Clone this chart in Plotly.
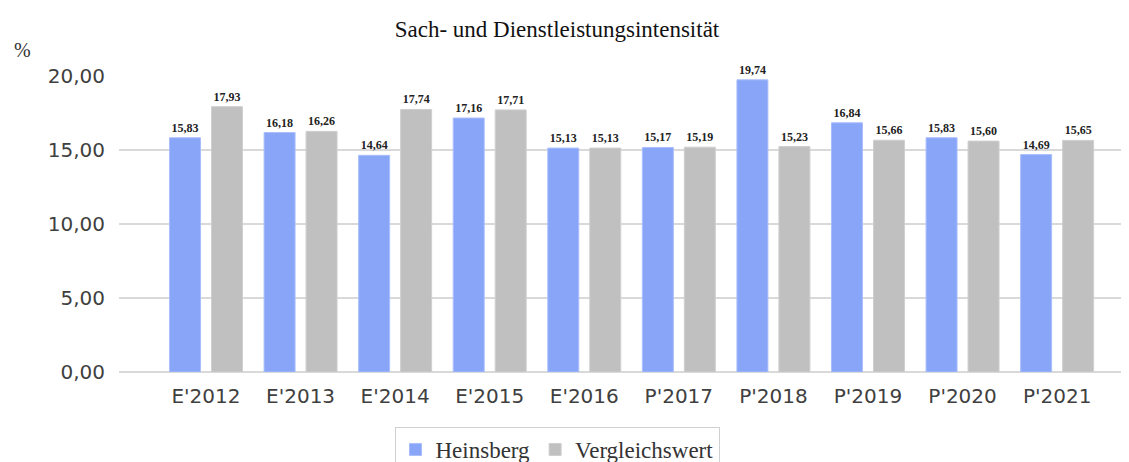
import plotly.graph_objects as go

categories = ["E'2012", "E'2013", "E'2014", "E'2015", "E'2016",
              "P'2017", "P'2018", "P'2019", "P'2020", "P'2021"]
heinsberg = [15.83, 16.18, 14.64, 17.16, 15.13, 15.17, 19.74, 16.84, 15.83, 14.69]
vergleich = [17.93, 16.26, 17.74, 17.71, 15.13, 15.19, 15.23, 15.66, 15.60, 15.65]
y_ticks = [0, 5, 10, 15, 20]

# the page body has an 8px margin; figure coords = page coords - 8
OFF = 8
W, H = 1129 - OFF, 462 - OFF
L, R, T = 119 - OFF, 0, 76 - OFF
B = H - (372 - OFF)

def fmt(v):
    return f"{v:.2f}".replace(".", ",")

label_font = dict(family="Liberation Serif", size=12, color="#222222", weight="bold")

fig = go.Figure()
fig.add_trace(go.Bar(
    x=categories, y=heinsberg, name="Heinsberg",
    marker=dict(color="#89A5F8", line=dict(color="#A9BFFB", width=1)),
    text=[fmt(v) for v in heinsberg], textposition="outside",
    textfont=label_font, cliponaxis=False, hoverinfo="skip",
))
fig.add_trace(go.Bar(
    x=categories, y=vergleich, name="Vergleichswert",
    marker=dict(color="#C0C0C0", line=dict(color="#CFCFCF", width=1)),
    text=[fmt(v) for v in vergleich], textposition="outside",
    textfont=label_font, cliponaxis=False, hoverinfo="skip",
))

fig.update_layout(
    width=W, height=H,
    margin=dict(l=L, r=R, t=T, b=B, autoexpand=False),
    paper_bgcolor="white", plot_bgcolor="white",
    separators=",.",
    barmode="group", bargap=0.112, bargroupgap=0.262,
    font=dict(family="DejaVu Sans", color="#404040"),
    title=dict(text="Sach- und Dienstleistungsintensität",
               font=dict(family="Liberation Serif", size=23, color="#111111"),
               x=(557 - OFF) / W, xanchor="center", xref="container",
               y=1 - (29 - OFF) / H, yanchor="middle", yref="container"),
    legend=dict(orientation="h", xref="container", yref="container",
                x=(557 - OFF) / W, xanchor="center",
                y=1 - (427 - OFF) / H, yanchor="top",
                font=dict(family="Liberation Serif", size=23, color="#333333"),
                bordercolor="#D0D0D0", borderwidth=1,
                itemwidth=30, traceorder="normal"),
    xaxis=dict(range=[-0.92, 9.76], showgrid=False, showline=False,
               ticks="", tickfont=dict(family="DejaVu Sans", size=20, color="#404040"),
               ticklabelstandoff=10),
    yaxis=dict(range=[0, 20], tickvals=y_ticks, tickformat=".2f",
               showgrid=True, gridcolor="#D9D9D9", gridwidth=2,
               zeroline=True, zerolinecolor="#D9D9D9", zerolinewidth=2,
               showline=False, ticks="",
               tickfont=dict(family="DejaVu Sans", size=20, color="#404040"),
               ticklabelstandoff=13),
    annotations=[dict(text="%", xref="paper", yref="paper",
                      x=-(L - (22 - OFF)) / (W - L - R), y=1 + 26 / (H - T - B),
                      xanchor="center", yanchor="middle", showarrow=False,
                      font=dict(family="Liberation Serif", size=20, color="#333333"))],
)

fig.write_html("out.html")
